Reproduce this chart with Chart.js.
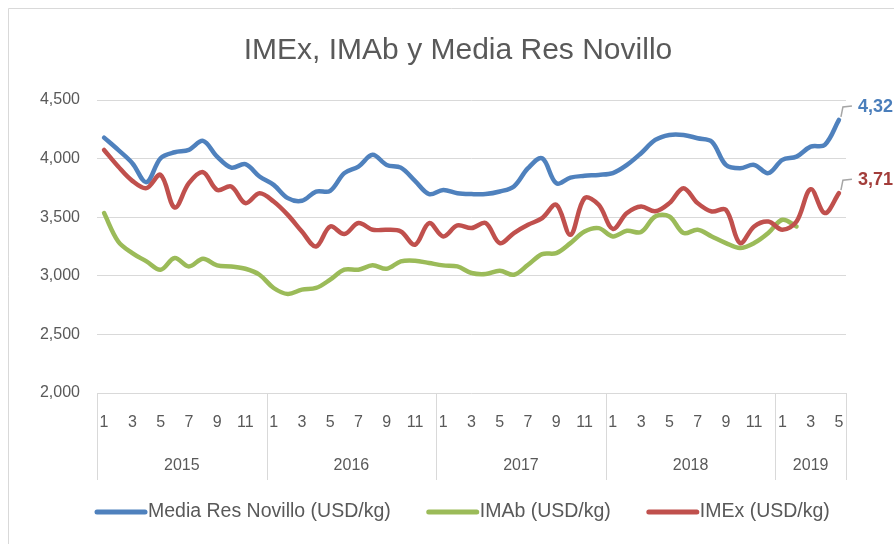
<!DOCTYPE html>
<html>
<head>
<meta charset="utf-8">
<script src="https://cdn.jsdelivr.net/npm/chart.js@4/dist/chart.umd.min.js"></script>
<style>
  body { margin: 0; background: #fff; }
  canvas { display: block; }
</style>
</head>
<body>
<canvas id="grafico" width="894" height="544"></canvas>
<script>
// ===========================
// Dados
// ===========================
const titulo = "IMEx, IMAb y Media Res Novillo";
const anos = ["2015", "2016", "2017", "2018", "2019"];
const mesesPorAno = [12, 12, 12, 12, 5];
const meses = [
  "1","2","3","4","5","6","7","8","9","10","11","12",
  "1","2","3","4","5","6","7","8","9","10","11","12",
  "1","2","3","4","5","6","7","8","9","10","11","12",
  "1","2","3","4","5","6","7","8","9","10","11","12",
  "1","2","3","4","5"
];

const mediaRes = [
  4179, 4074, 3961, 3799, 4003, 4054, 4074, 4151, 4017, 3923, 3952, 3847,
  3776, 3663, 3640, 3719, 3725, 3876, 3932, 4032, 3946, 3923, 3810, 3697,
  3733, 3705, 3697, 3697, 3719, 3762, 3918, 4003, 3790, 3838, 3853, 3861,
  3876, 3946, 4046, 4159, 4202, 4202, 4174, 4145, 3946, 3918, 3946, 3876,
  3989, 4017, 4102, 4117, 4330
];

const imab = [
  3535, 3293, 3194, 3123, 3052, 3152, 3080, 3146, 3089, 3080, 3060, 3009,
  2896, 2845, 2882, 2896, 2967, 3052, 3052, 3089, 3060, 3123, 3129, 3109,
  3089, 3080, 3024, 3015, 3043, 3009, 3094, 3185, 3194, 3279, 3378, 3407,
  3336, 3384, 3373, 3506, 3506, 3365, 3393, 3336, 3279, 3237, 3279, 3365,
  3478, 3421, null, null, null
];

const imex = [
  4074, 3932, 3810, 3748, 3861, 3583, 3790, 3884, 3733, 3762, 3620, 3705,
  3634, 3520, 3378, 3250, 3421, 3356, 3450, 3393, 3393, 3378, 3265, 3450,
  3336, 3430, 3407, 3450, 3279, 3365, 3435, 3492, 3606, 3350, 3663, 3606,
  3401, 3535, 3591, 3550, 3620, 3748, 3620, 3549, 3563, 3279, 3421, 3463,
  3393, 3463, 3739, 3535, 3705
];

const rotulosFinais = ["4,32", null, "3,71"];

// ===========================
// Estilo
// ===========================
const FONTE = "'Liberation Sans', Arial, sans-serif";
const CINZA = "#595959";
const GRADE = "#d9d9d9";

// eixo de anos + separadores
const eixoAnos = {
  id: "eixoAnos",
  afterDraw(chart) {
    const ctx = chart.ctx;
    const xs = chart.scales.x;
    const meio = (xs.getPixelForValue(1) - xs.getPixelForValue(0)) / 2;
    const borda = i => (i < meses.length ? xs.getPixelForValue(i) - meio : xs.getPixelForValue(meses.length - 1) + meio);
    const topo = chart.chartArea.bottom;
    ctx.save();
    ctx.strokeStyle = GRADE;
    ctx.lineWidth = 1;
    ctx.fillStyle = CINZA;
    ctx.font = "16px " + FONTE;
    ctx.textAlign = "center";
    ctx.textBaseline = "middle";
    let inicio = 0;
    anos.forEach((ano, k) => {
      const fim = inicio + mesesPorAno[k];
      const x1 = borda(inicio), x2 = borda(fim);
      [x1, x2].forEach(x => {
        ctx.beginPath();
        ctx.moveTo(Math.round(x) + 0.5, topo);
        ctx.lineTo(Math.round(x) + 0.5, topo + 87);
        ctx.stroke();
      });
      ctx.fillText(ano, (x1 + x2) / 2, topo + 73);
      inicio = fim;
    });
    ctx.restore();
  }
};

// rótulos do último ponto
const rotuloFinal = {
  id: "rotuloFinal",
  afterDatasetsDraw(chart) {
    const ctx = chart.ctx;
    ctx.save();
    chart.data.datasets.forEach((ds, i) => {
      const txt = rotulosFinais[i];
      if (!txt) return;
      const pts = chart.getDatasetMeta(i).data;
      const p = pts[pts.length - 1];
      ctx.strokeStyle = "#a6a6a6";
      ctx.lineWidth = 1.5;
      ctx.beginPath();
      ctx.moveTo(p.x + 2, p.y - 3);
      ctx.lineTo(p.x + 4, p.y - 13);
      ctx.lineTo(p.x + 13, p.y - 14);
      ctx.stroke();
      ctx.fillStyle = ds.rotuloCor;
      ctx.font = "bold 18px " + FONTE;
      ctx.textAlign = "left";
      ctx.textBaseline = "middle";
      ctx.fillText(txt, p.x + 19, p.y - 13);
    });
    ctx.restore();
  }
};

// título, legenda e moldura
const legendaMoldura = {
  id: "legendaMoldura",
  beforeDraw(chart) {
    const ctx = chart.ctx;
    ctx.save();
    ctx.fillStyle = "#fff";
    ctx.fillRect(0, 0, chart.width, chart.height);
    ctx.strokeStyle = GRADE;
    ctx.lineWidth = 1;
    ctx.beginPath();
    ctx.moveTo(8.5, chart.height);
    ctx.lineTo(8.5, 8.5);
    ctx.lineTo(chart.width, 8.5);
    ctx.stroke();
    ctx.restore();
  },
  afterDraw(chart) {
    const ctx = chart.ctx;
    ctx.save();
    ctx.fillStyle = CINZA;
    ctx.font = "30px " + FONTE;
    ctx.textAlign = "center";
    ctx.textBaseline = "middle";
    ctx.fillText(titulo, 458, 51);

    ctx.font = "19.5px " + FONTE;
    ctx.textAlign = "left";
    let x = 95;
    const y = 512;
    chart.data.datasets.forEach(ds => {
      ctx.strokeStyle = ds.borderColor;
      ctx.lineWidth = 5;
      ctx.lineCap = "round";
      ctx.beginPath();
      ctx.moveTo(x + 2, y);
      ctx.lineTo(x + 50, y);
      ctx.stroke();
      ctx.fillStyle = CINZA;
      ctx.fillText(ds.label, x + 53, y);
      x += 53 + ctx.measureText(ds.label).width + 36;
    });
    ctx.restore();
  }
};

const ctx = document.getElementById("grafico").getContext("2d");
new Chart(ctx, {
  type: "line",
  data: {
    labels: meses,
    datasets: [
      {
        label: "Media Res Novillo (USD/kg)",
        data: mediaRes,
        borderColor: "#4F81BD",
        backgroundColor: "#4F81BD",
        rotuloCor: "#4A7EBB",
        order: 2
      },
      {
        label: "IMAb (USD/kg)",
        data: imab,
        borderColor: "#9BBB59",
        backgroundColor: "#9BBB59",
        order: 1
      },
      {
        label: "IMEx (USD/kg)",
        data: imex,
        borderColor: "#C0504D",
        backgroundColor: "#C0504D",
        rotuloCor: "#A33D3A",
        order: 0
      }
    ]
  },
  options: {
    responsive: false,
    animation: false,
    layout: { padding: { left: 0, right: 48, top: 100, bottom: 0 } },
    elements: {
      line: { borderWidth: 4.5, tension: 0.35, borderCapStyle: "round", borderJoinStyle: "round" },
      point: { radius: 0 }
    },
    plugins: {
      legend: { display: false },
      tooltip: { enabled: false }
    },
    scales: {
      x: {
        offset: true,
        grid: { display: false },
        border: { display: false },
        ticks: {
          autoSkip: false,
          maxRotation: 0,
          color: CINZA,
          padding: 12,
          font: { family: FONTE, size: 16 },
          callback: (v, i) => (Number(meses[i]) % 2 === 1 ? meses[i] : "")
        },
        afterFit: s => { s.height = 151; }
      },
      y: {
        min: 2000,
        max: 4500,
        ticks: {
          stepSize: 500,
          color: CINZA,
          padding: 17,
          font: { family: FONTE, size: 16 },
          callback: v => v.toLocaleString("en-US")
        },
        grid: { color: GRADE, lineWidth: 1, drawTicks: false },
        border: { display: false },
        afterFit: s => { s.width = 97; }
      }
    }
  },
  plugins: [legendaMoldura, eixoAnos, rotuloFinal]
});
</script>
</body>
</html>
